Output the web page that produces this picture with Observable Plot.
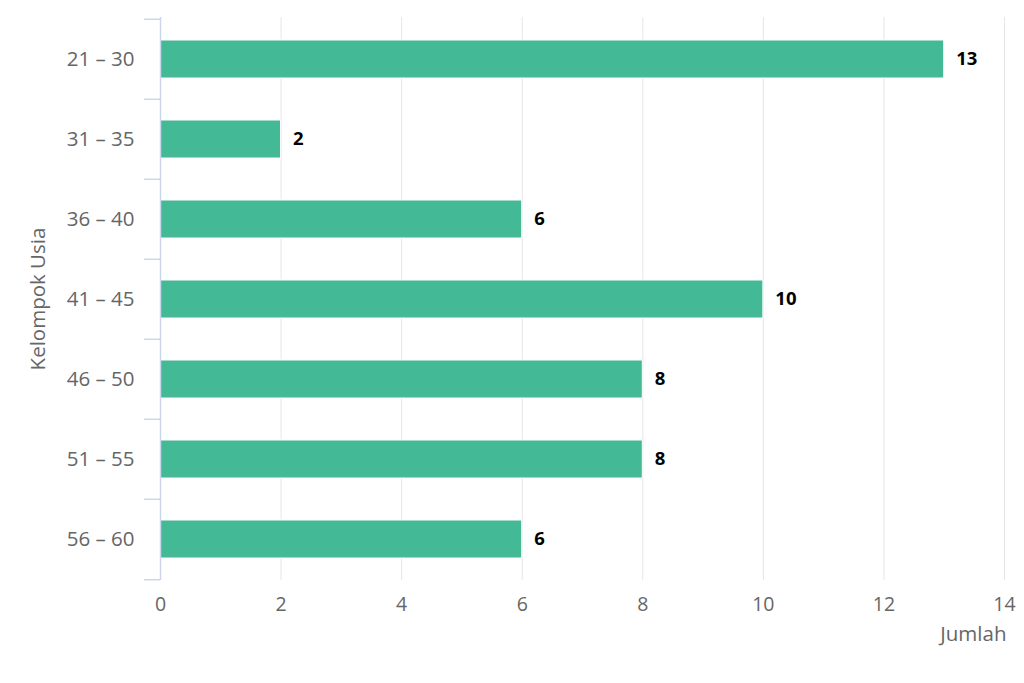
<!DOCTYPE html>
<html>
<head>
<meta charset="utf-8">
<script src="https://cdn.jsdelivr.net/npm/d3@7"></script>
<script src="https://cdn.jsdelivr.net/npm/@observablehq/plot@0.6"></script>
<style>
  html, body { margin: 0; padding: 0; background: #fff; }
  #chart { width: 1024px; height: 683px; }
</style>
</head>
<body>
<div id="chart"></div>
<script>
const categories = ["21 – 30", "31 – 35", "36 – 40", "41 – 45", "46 – 50", "51 – 55", "56 – 60"];
const values = [13, 2, 6, 10, 8, 8, 6];
const xTicks = [0, 2, 4, 6, 8, 10, 12, 14];

const data = categories.map((c, i) => ({kelompok: c, jumlah: values[i]}));

const W = 1024, H = 683;
const mTop = 17, mBottom = 103, mLeft = 160, mRight = 20;
const step = (H - mTop - mBottom) / categories.length;
const font = "'Open Sans', sans-serif";

const chart = Plot.plot({
  width: W,
  height: H,
  marginTop: mTop,
  marginBottom: mBottom,
  marginLeft: mLeft,
  marginRight: mRight,
  style: {fontFamily: font, fontSize: "20px", color: "#666666", background: "#ffffff"},
  x: {domain: [0, 14], ticks: xTicks, label: null},
  y: {domain: categories, paddingInner: 0.53, paddingOuter: 0.265, label: null},
  marks: [
    Plot.gridX(xTicks, {stroke: "#e6e6e6", strokeOpacity: 1, strokeWidth: 1}),
    Plot.barX(data, {x: "jumlah", y: "kelompok", fill: "#43b996", stroke: "#ffffff", strokeWidth: 1}),
    Plot.text(data, {x: "jumlah", y: "kelompok", text: d => String(d.jumlah), textAnchor: "start", dx: 12, fill: "#000000", fontWeight: "bold", fontSize: 18.5}),
    Plot.ruleX([0], {stroke: "#ccd6eb", strokeWidth: 1.5}),
    Plot.ruleY(categories, {y: d => d, x1: -0.265, x2: 0, dy: -step / 2, stroke: "#ccd6eb", strokeWidth: 1.5}),
    Plot.ruleY([categories[categories.length - 1]], {y: d => d, x1: -0.265, x2: 0, dy: step / 2, stroke: "#ccd6eb", strokeWidth: 1.5}),
    Plot.axisX({ticks: xTicks, tickSize: 0, tickPadding: 17, label: null, fontSize: 19.5, fill: "#666666"}),
    Plot.text(["Jumlah"], {frameAnchor: "bottom-right", text: d => d, textAnchor: "end", dx: 2, dy: 60, fill: "#666666", fontSize: 20.5}),
    Plot.axisY({tickSize: 0, tickPadding: 26, label: "Kelompok Usia", labelAnchor: "center", labelArrow: "none", labelOffset: 130, fontSize: 20.5, fill: "#666666"})
  ]
});
document.getElementById("chart").appendChild(chart);
</script>
</body>
</html>
